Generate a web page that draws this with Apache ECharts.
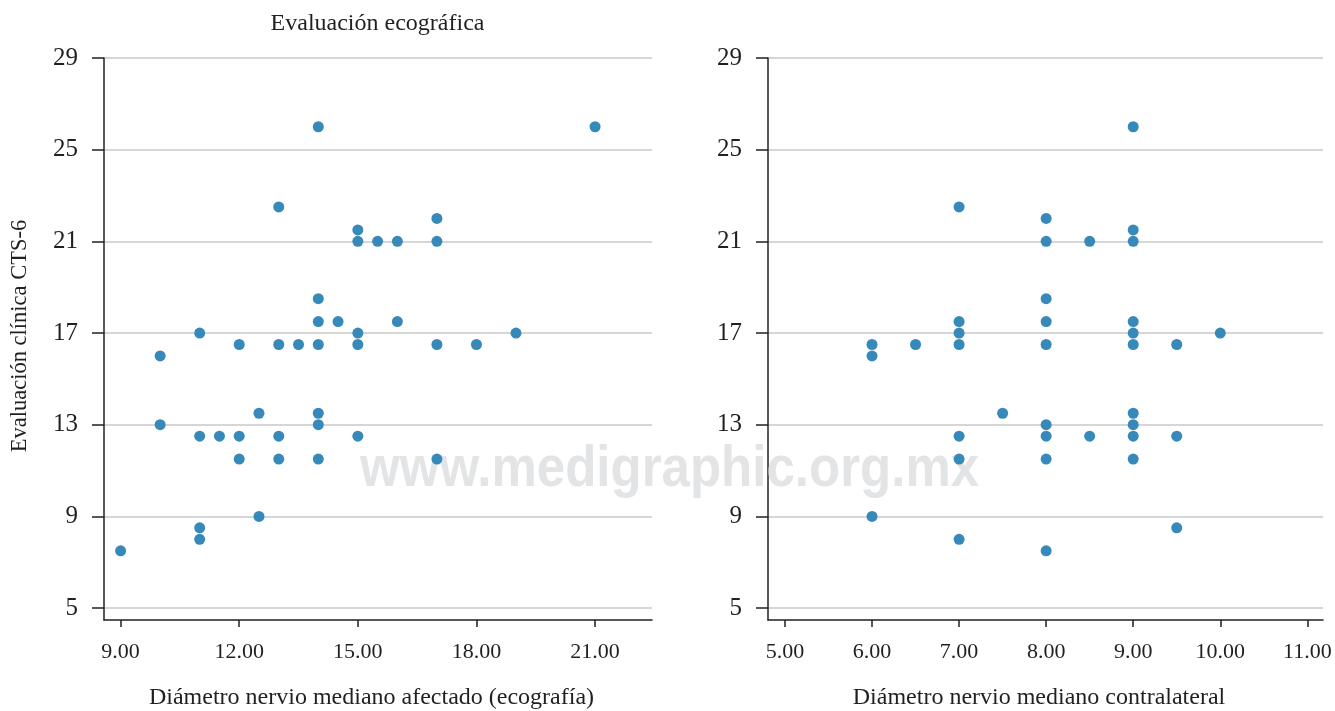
<!DOCTYPE html>
<html>
<head>
<meta charset="utf-8">
<script src="https://cdn.jsdelivr.net/npm/echarts@6/dist/echarts.min.js"></script>
<style>
  html, body { margin: 0; padding: 0; background: #fff; }
  #chart { width: 1335px; height: 711px; }
</style>
</head>
<body>
<div id="chart"></div>
<script>
/* ================================
   DATA
================================ */
const yTicks = [5, 9, 13, 17, 21, 25, 29];
const leftXTicks = [9, 12, 15, 18, 21];
const rightXTicks = [5, 6, 7, 8, 9, 10, 11];

// diámetro nervio mediano afectado vs CTS-6
const leftX = [9, 10, 10, 11, 11, 11, 11, 11.5, 12, 12, 12, 12.5, 12.5, 13, 13, 13, 13, 13.5,
  14, 14, 14, 14, 14, 14, 14, 14.5, 15, 15, 15, 15, 15, 15.5, 16, 16, 17, 17, 17, 17, 18, 19, 21];
const leftY = [7.5, 16, 13, 17, 12.5, 8.5, 8, 12.5, 16.5, 12.5, 11.5, 13.5, 9, 22.5, 16.5, 12.5, 11.5, 16.5,
  26, 18.5, 17.5, 16.5, 13.5, 13, 11.5, 17.5, 21.5, 21, 17, 16.5, 12.5, 21, 21, 17.5, 22, 21, 16.5, 11.5, 16.5, 17, 26];

// diámetro nervio mediano contralateral vs CTS-6
const rightX = [6, 6, 6, 6.5, 7, 7, 7, 7, 7, 7, 7, 7.5, 8, 8, 8, 8, 8, 8, 8, 8, 8, 8.5, 8.5,
  9, 9, 9, 9, 9, 9, 9, 9, 9, 9, 9.5, 9.5, 9.5, 10];
const rightY = [16.5, 16, 9, 16.5, 22.5, 17.5, 17, 16.5, 12.5, 11.5, 8, 13.5, 22, 21, 18.5, 17.5, 16.5, 13, 12.5, 11.5, 7.5, 21, 12.5,
  26, 21.5, 21, 17.5, 17, 16.5, 13.5, 13, 12.5, 11.5, 16.5, 12.5, 8.5, 17];

const pairs = (xs, ys) => xs.map((x, i) => [x, ys[i]]);

/* ================================
   STYLE
================================ */
const FONT = "Liberation Serif";
const TXT = "#231f20";
const DOT = "#3789b9";

function xAxisFor(gridIndex, min, max, ticks) {
  return {
    type: "value", gridIndex, min, max,
    axisLine: { show: true, onZero: false, lineStyle: { color: "#231f20", width: 1.5 } },
    axisTick: { show: true, length: 7, customValues: ticks, lineStyle: { color: "#231f20", width: 1.5 } },
    axisLabel: { customValues: ticks, margin: 21, fontFamily: FONT, fontSize: 22, color: TXT,
      formatter: v => v.toFixed(2) },
    splitLine: { show: false }
  };
}

function yAxisFor(gridIndex) {
  return {
    type: "value", gridIndex, min: 4.48, max: 29,
    axisLine: { show: true, onZero: false, lineStyle: { color: "#231f20", width: 1.5 } },
    axisTick: { show: true, length: 12, customValues: yTicks, lineStyle: { color: "#231f20", width: 1.5 } },
    axisLabel: { customValues: yTicks, margin: 26, fontFamily: FONT, fontSize: 25, color: TXT },
    splitLine: { show: true, lineStyle: { color: "#c8c8c8", width: 1.5 } }
  };
}

function label(text, x, y, size, rotation) {
  return {
    type: "text", x, y, rotation: rotation || 0, z: 5,
    style: { text, fontFamily: FONT, fontSize: size, fill: TXT, align: "center", verticalAlign: "middle" }
  };
}

/* ================================
   CHART
================================ */
const chart = echarts.init(document.getElementById("chart"));

chart.setOption({
  backgroundColor: "#fff",
  animation: false,
  grid: [
    { left: 104, right: 683, top: 58, bottom: 91, outerBoundsMode: "none" },
    { left: 768, right: 12, top: 58, bottom: 91, outerBoundsMode: "none" }
  ],
  xAxis: [
    xAxisFor(0, 8.58, 22.44, leftXTicks),
    xAxisFor(1, 4.805, 11.18, rightXTicks)
  ],
  yAxis: [yAxisFor(0), yAxisFor(1)],
  graphic: [
    {
      type: "text", z: 1, left: 360, top: 441, scaleX: 0.88,
      style: { text: "www.medigraphic.org.mx", fontFamily: "Liberation Sans", fontWeight: "bold",
        fontSize: 58, fill: "#e3e4e6" }
    },
    label("Evaluación ecográfica", 377.5, 24, 24),
    label("Diámetro nervio mediano afectado (ecografía)", 371.5, 698, 24),
    label("Diámetro nervio mediano contralateral", 1039, 698, 24),
    label("Evaluación clínica CTS-6", 20, 336, 22.5, Math.PI / 2)
  ],
  series: [
    { type: "scatter", xAxisIndex: 0, yAxisIndex: 0, symbolSize: 11, z: 3,
      itemStyle: { color: DOT, opacity: 1 }, data: pairs(leftX, leftY) },
    { type: "scatter", xAxisIndex: 1, yAxisIndex: 1, symbolSize: 11, z: 3,
      itemStyle: { color: DOT, opacity: 1 }, data: pairs(rightX, rightY) }
  ]
});
</script>
</body>
</html>
